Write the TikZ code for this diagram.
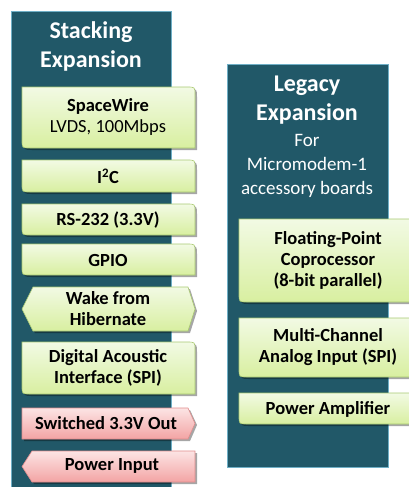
\documentclass[tikz,border=0pt]{standalone}
\usepackage{fontspec}
\setmainfont{Carlito}
\usetikzlibrary{positioning}
\definecolor{panelfill}{HTML}{215868}
\definecolor{panelrim}{HTML}{6FAFC6}
\definecolor{greentop}{HTML}{F2FAE4}
\definecolor{greenbot}{HTML}{D8EFA0}
\definecolor{greenrim}{HTML}{A8C870}
\definecolor{redtop}{HTML}{FCE4E4}
\definecolor{redbot}{HTML}{F3A4A4}
\definecolor{redrim}{HTML}{E08C8C}
% box with round top-right and bottom-left corners
\newcommand*{\diagbox}[4]{%
  \fill[boxshadow] ({#1+2},{#2+2}) -- ({#3-6},{#2+2}) .. controls ({#3+2},{#2+2}) .. ({#3+2},{#2+10})
    -- ({#3+2},{#4+2}) -- ({#1+10},{#4+2}) .. controls ({#1+2},{#4+2}) .. ({#1+2},{#4-6}) -- cycle;
  \path[greenshape] (#1,#2) -- ({#3-8},#2) .. controls (#3,#2) .. (#3,{#2+8})
    -- (#3,#4) -- ({#1+8},#4) .. controls (#1,#4) .. (#1,{#4-8}) -- cycle;}

\begin{document}
\begin{tikzpicture}[x=1pt, y=-1pt,
  panelbox/.style={draw=panelrim, line width=0.8pt, fill=panelfill},
  boxshadow/.style={black, opacity=0.35},
  greenshape/.style={draw=greenrim, line width=0.6pt, top color=greentop, bottom color=greenbot},
  redshape/.style={draw=redrim, line width=0.6pt, top color=redtop, bottom color=redbot},
  boxtext/.style={align=center, font=\bfseries\fontsize{18.5}{21}\selectfont},
  titletext/.style={align=center, text=white, font=\bfseries\fontsize{24}{29}\selectfont},
  subtext/.style={align=center, text=white, font=\fontsize{19}{24}\selectfont}]
\useasboundingbox (0,0) rectangle (409,487);
\clip (0,0) rectangle (409,487);

% panels
\path[panelbox] (11,11) rectangle (171,500);
\node (stk) [titletext] at (91,46) {Stacking\\Expansion};
\path[panelbox] (227,64) rectangle (388,467);
\node (leghead) [titletext] at (307,100) {Legacy\\Expansion};
\node (legsub) [subtext, below=3pt of leghead] {For\\Micromodem-1\\accessory boards};

% stacking connectors
\diagbox{22}{87}{195}{148}
\node (spw) [boxtext] at (108,117) {SpaceWire\\\mdseries LVDS, 100Mbps};
\diagbox{22}{160}{195}{192}
\node (iic) [boxtext] at (108,176) {I\textsuperscript{2}C};
\diagbox{22}{204}{195}{235}
\node (rs) [boxtext] at (108,220) {RS-232 (3.3V)};
\diagbox{22}{244}{195}{275}
\node (gpio) [boxtext] at (108,260) {GPIO};
\fill[boxshadow] (24,311) -- (35,289) -- (190,289) -- (197,311) -- (190,333) -- (35,333) -- cycle;
\path[greenshape] (22,309) -- (33,287) -- (188,287) -- (195,309) -- (188,331) -- (33,331) -- cycle;
\node (wake) [boxtext] at (108,309) {Wake from\\Hibernate};
\diagbox{22}{342}{195}{394}
\node (dai) [boxtext] at (108,368) {Digital Acoustic\\Interface (SPI)};
\fill[boxshadow] (24,410) -- (190,410) -- (197,425) -- (190,441) -- (24,441) -- cycle;
\path[redshape] (22,408) -- (188,408) -- (195,423.5) -- (188,439) -- (22,439) -- cycle;
\node (swout) [boxtext] at (106,423) {Switched 3.3V Out};
\fill[boxshadow] (24,468) -- (34,453) -- (197,453) -- (197,484) -- (34,484) -- cycle;
\path[redshape] (22,466.5) -- (32,451) -- (195,451) -- (195,482) -- (32,482) -- cycle;
\node (pwrin) [boxtext] at (112,466) {Power Input};

% legacy connectors
\diagbox{239}{219}{420}{302}
\node (fpc) [boxtext] at (328,260) {Floating-Point\\Coprocessor\\(8-bit parallel)};
\diagbox{239}{318}{420}{377}
\node (mcai) [boxtext] at (328,347) {Multi-Channel\\Analog Input (SPI)};
\diagbox{239}{393}{420}{424}
\node (pamp) [boxtext] at (328,409) {Power Amplifier};
\end{tikzpicture}
\end{document}
